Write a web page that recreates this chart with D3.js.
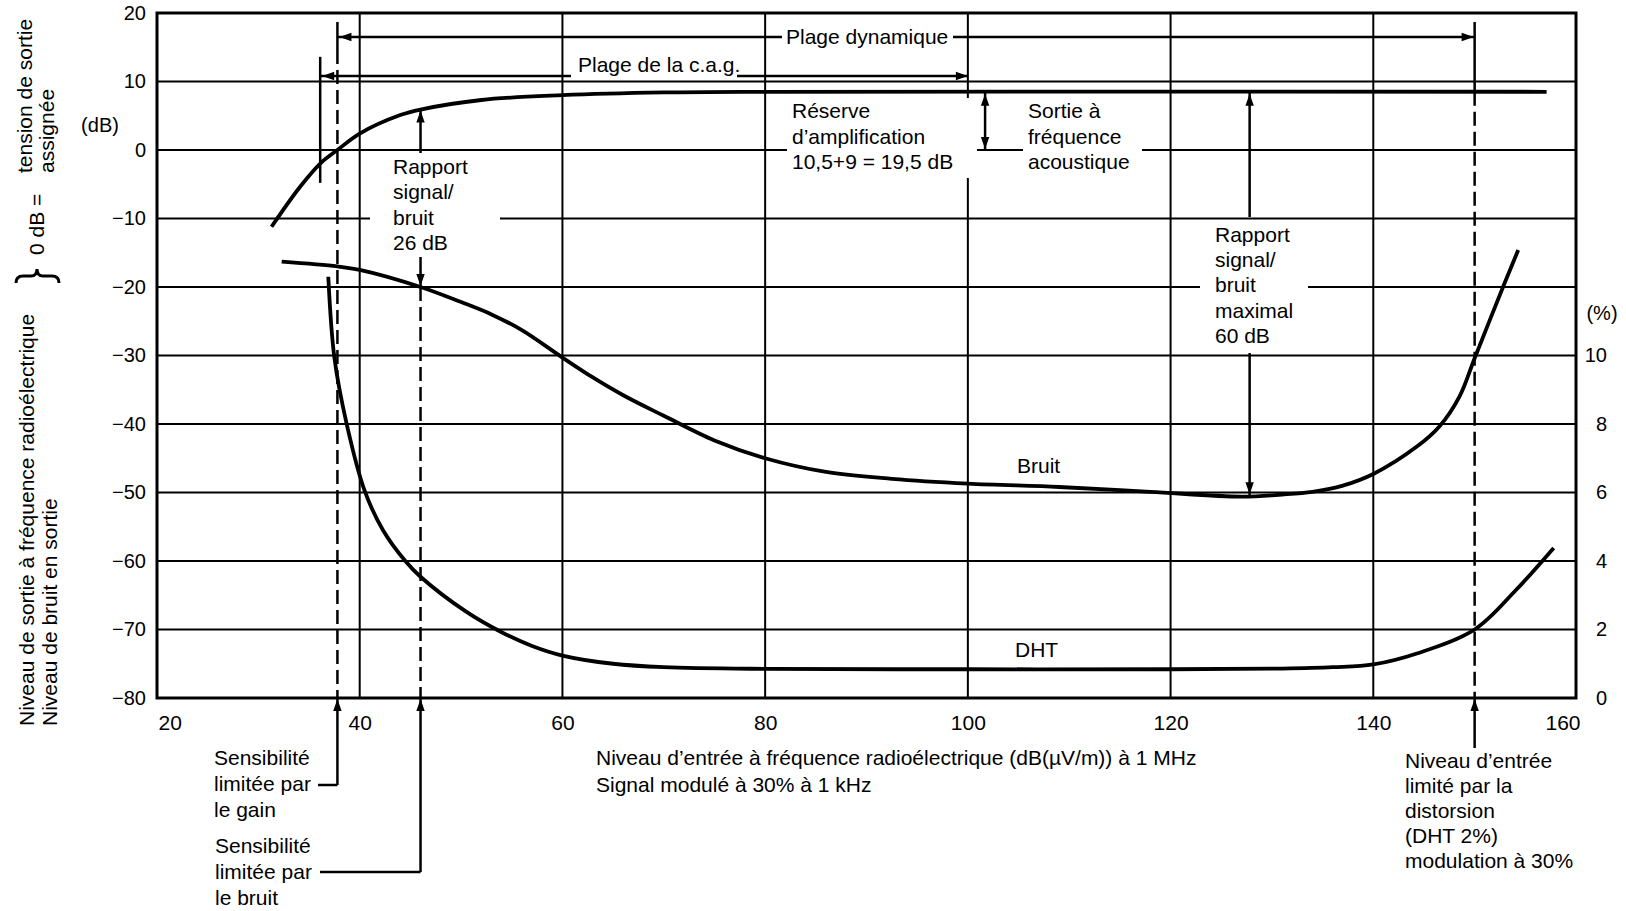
<!DOCTYPE html>
<html>
<head>
<meta charset="utf-8">
<script src="https://cdn.jsdelivr.net/npm/d3@7"></script>
<style>
  html, body { margin: 0; padding: 0; background: #fff; }
  svg { display: block; }
  text { font-family: "Liberation Sans", Arial, sans-serif; fill: #000; }
</style>
</head>
<body>
<svg id="chart" width="1626" height="911"></svg>
<script>
// ---- axis ticks ----
const xTicks = [20, 40, 60, 80, 100, 120, 140, 160];
const yTicks = [20, 10, 0, -10, -20, -30, -40, -50, -60, -70, -80];
const pctTicks = [0, 2, 4, 6, 8, 10];

// ---- RF output level (dB) versus input level ----
const outputX = [31.3, 34.1, 36.15, 37.8, 40, 44, 46, 52, 60, 70, 80, 157.1];
const outputY = [-11.2, -5.4, -1.9, 0, 2.4, 5.1, 5.9, 7.3, 8.0, 8.4, 8.5, 8.5];

// ---- output noise level (dB) ----
const noiseX = [32.3, 37.8, 40, 46, 50, 53, 56, 60, 63, 66, 70, 75, 80, 86, 92.5, 100, 109, 118, 127, 131, 134, 137, 140, 144.3, 146.5, 148.5, 150, 152.8, 154.3];
const noiseY = [-16.3, -17, -17.5, -20, -22.2, -24.0, -26.3, -30.3, -33.2, -35.8, -38.8, -42.4, -45, -47, -48, -48.7, -49.2, -49.9, -50.6, -50.3, -49.9, -49, -47.3, -43.3, -40.4, -36, -30.4, -20, -14.6];

// ---- total harmonic distortion (%) ----
const dhtX = [36.9, 37.5, 38.7, 40.5, 42.3, 44.5, 46, 50.5, 54, 57, 60, 65, 70, 80, 100, 120, 131, 136, 140, 144.3, 150, 154.1, 157.8];
const dhtPct = [12.3, 9.94, 8.02, 6.04, 4.9, 4.0, 3.54, 2.52, 1.92, 1.52, 1.24, 1.0, 0.9, 0.85, 0.84, 0.84, 0.86, 0.9, 0.98, 1.3, 2.0, 3.16, 4.38];

// ---- characteristic levels used by the dimension lines ----
const gainLimit = 37.8;      // sensitivity limited by gain
const noiseLimit = 46;       // sensitivity limited by noise
const distLimit = 150;       // input level limited by distortion (DHT 2 %)
const agcRange = [36.1, 100];
const dynRange = [gainLimit, distLimit];
const ratedOut = 8.5;        // flat AF output level
const snrAtLimit = [5.9, -20];
const reserveX = 101.7;
const snrMaxX = 127.8;
const noiseMin = -50.4;
const dynLevel = 16.5;       // height of the "Plage dynamique" line
const agcLevel = 10.8;       // height of the "Plage de la c.a.g." line

const FONT = 21;
const svg = d3.select("#chart");

const x = d3.scaleLinear().domain([20, 160]).range([157, 1576]);
const y = d3.scaleLinear().domain([-80, 20]).range([698, 13]);
const yPct = d3.scaleLinear().domain([0, 10]).range([y(-80), y(-30)]);

// ---- grid ----
const grid = svg.append("g").attr("stroke", "#000").attr("stroke-width", 2);
grid.selectAll("line.h").data(yTicks.filter(v => v > -80 && v < 20)).join("line")
  .attr("class", "h")
  .attr("x1", x(20)).attr("x2", x(160))
  .attr("y1", d => y(d)).attr("y2", d => y(d));
grid.selectAll("line.v").data(xTicks.filter(v => v > 20 && v < 160)).join("line")
  .attr("class", "v")
  .attr("x1", d => x(d)).attr("x2", d => x(d))
  .attr("y1", y(20)).attr("y2", y(-80));

// white panels behind the text blocks that sit on the grid
const panels = [
  [370, 155, 130, 101],   // Rapport signal/bruit 26 dB
  [787, 98, 190, 80],     // Réserve d'amplification
  [1023, 98, 119, 78],    // Sortie à fréquence acoustique
  [1200, 221, 108, 131],  // Rapport signal/bruit maximal
  [780, 24, 174, 27],     // Plage dynamique
  [570, 54, 168, 25]      // Plage de la c.a.g.
];
svg.append("g").selectAll("rect").data(panels).join("rect")
  .attr("x", d => d[0]).attr("y", d => d[1])
  .attr("width", d => d[2]).attr("height", d => d[3])
  .attr("fill", "#fff");

// ---- frame ----
svg.append("rect")
  .attr("x", x(20)).attr("y", y(20))
  .attr("width", x(160) - x(20)).attr("height", y(-80) - y(20))
  .attr("fill", "none").attr("stroke", "#000").attr("stroke-width", 3);

// ---- axes ----
const fmt = d => d < 0 ? "\u2212" + Math.abs(d) : String(d);
function styleAxis(g) {
  g.select(".domain").remove();
  g.attr("font-family", null).attr("font-size", null);
  g.selectAll("text").attr("font-size", 20).attr("fill", "#000");
}
svg.append("g").attr("transform", `translate(${x(20)},0)`)
  .call(d3.axisLeft(y).tickValues(yTicks).tickSize(0).tickPadding(11).tickFormat(fmt))
  .call(styleAxis);

const xAxis = svg.append("g").attr("transform", `translate(0,${y(-80)})`)
  .call(d3.axisBottom(x).tickValues(xTicks).tickSize(0).tickPadding(17).tickFormat(d => d))
  .call(styleAxis);
xAxis.selectAll(".tick text").attr("font-size", 21);
xAxis.selectAll(".tick").filter(d => d === 20).select("text").attr("text-anchor", "start").attr("x", 1);
xAxis.selectAll(".tick").filter(d => d === 160).select("text").attr("text-anchor", "end").attr("x", 4);

const rAxis = svg.append("g").attr("transform", `translate(${x(160)},0)`)
  .call(d3.axisRight(yPct).tickValues(pctTicks).tickSize(0).tickFormat(d => d))
  .call(styleAxis);
rAxis.selectAll(".tick text").attr("text-anchor", "end").attr("x", 31);

svg.append("text").attr("x", 100).attr("y", 132).attr("text-anchor", "middle").attr("font-size", 20).text("(dB)");
svg.append("text").attr("x", 1602).attr("y", 320).attr("text-anchor", "middle").attr("font-size", 20).text("(%)");

// ---- curves ----
const lineGen = d3.line().curve(d3.curveCatmullRom.alpha(0.5));
const curves = svg.append("g").attr("fill", "none").attr("stroke", "#000").attr("stroke-width", 3.8);
curves.append("path").attr("d", lineGen(outputX.map((v, i) => [x(v), y(outputY[i])])));
curves.append("path").attr("d", lineGen(noiseX.map((v, i) => [x(v), y(noiseY[i])])));
curves.append("path").attr("d", lineGen(dhtX.map((v, i) => [x(v), yPct(dhtPct[i])])));

// ---- dimension lines ----
const ann = svg.append("g").attr("stroke", "#000").attr("stroke-width", 2.5).attr("fill", "none");
const heads = svg.append("g").attr("fill", "#000");
function seg(x1, y1, x2, y2, dash) {
  const l = ann.append("line").attr("x1", x1).attr("y1", y1).attr("x2", x2).attr("y2", y2);
  if (dash) l.attr("stroke-dasharray", "14,6");
  return l;
}
function head(tx, ty, dir) {
  const L = 12, w = 4.2;
  const p = {
    up:    [[tx, ty], [tx - w, ty + L], [tx + w, ty + L]],
    down:  [[tx, ty], [tx - w, ty - L], [tx + w, ty - L]],
    left:  [[tx, ty], [tx + L, ty - w], [tx + L, ty + w]],
    right: [[tx, ty], [tx - L, ty - w], [tx - L, ty + w]]
  }[dir];
  heads.append("path").attr("d", "M" + p.join("L") + "Z");
}

// Plage dynamique
const yDyn = y(dynLevel);
seg(x(dynRange[0]), yDyn - 15, x(dynRange[0]), yDyn + 13);
seg(x(dynRange[0]), yDyn, 782, yDyn);
seg(953, yDyn, x(dynRange[1]), yDyn);
head(x(dynRange[0]) + 2, yDyn, "left");
head(x(dynRange[1]) - 1, yDyn, "right");
seg(x(dynRange[1]), yDyn - 15, x(dynRange[1]), y(ratedOut));
seg(x(dynRange[0]), yDyn + 13, x(dynRange[0]), y(-80), true);
seg(x(dynRange[1]), y(ratedOut), x(dynRange[1]), y(-80), true);

// Plage de la c.a.g.
const yAgc = y(agcLevel);
seg(x(agcRange[0]), y(13.6), x(agcRange[0]), y(-4.8));
seg(x(agcRange[0]), yAgc, 571, yAgc);
seg(737, yAgc, x(agcRange[1]), yAgc);
head(x(agcRange[0]) + 2, yAgc, "left");
head(x(agcRange[1]), yAgc, "right");

// signal-to-noise 26 dB at the noise-limited sensitivity
const xs = x(noiseLimit);
seg(xs, y(snrAtLimit[0]), xs, 153);
head(xs, y(snrAtLimit[0]) + 1, "up");
seg(xs, 257, xs, y(snrAtLimit[1]));
head(xs, y(snrAtLimit[1]) - 1, "down");
seg(xs, y(snrAtLimit[1]), xs, y(-80), true);

// gain reserve
seg(x(reserveX), y(ratedOut), x(reserveX), y(0));
head(x(reserveX), y(ratedOut) + 2, "up");
head(x(reserveX), y(0) - 1, "down");

// maximum signal-to-noise
seg(x(snrMaxX), y(ratedOut), x(snrMaxX), 217);
head(x(snrMaxX), y(ratedOut) + 2, "up");
seg(x(snrMaxX), 353, x(snrMaxX), y(noiseMin));
head(x(snrMaxX), y(noiseMin) - 1, "down");

// pointers below the axis
const yB = y(-80);
seg(x(gainLimit), yB, x(gainLimit), 785);
seg(318, 785, x(gainLimit), 785);
head(x(gainLimit), yB + 1, "up");
seg(x(noiseLimit), yB, x(noiseLimit), 872);
seg(320, 872, x(noiseLimit), 872);
head(x(noiseLimit), yB + 1, "up");
seg(x(distLimit), yB, x(distLimit), 748);
head(x(distLimit), yB + 1, "up");

// ---- text ----
function block(lines, x0, y0, step, size) {
  const t = svg.append("text").attr("font-size", size || FONT);
  lines.forEach((s, i) => t.append("tspan").attr("x", x0).attr("y", y0 + i * step).text(s));
  return t;
}
block(["Plage dynamique"], 786, yDyn + 7.5, 0);
block(["Plage de la c.a.g."], 578, 72, 0);
block(["Rapport", "signal/", "bruit", "26 dB"], 393, 174, 25.4);
block(["Réserve", "d’amplification", "10,5+9 = 19,5 dB"], 792, 118, 25.5);
block(["Sortie à", "fréquence", "acoustique"], 1028, 118, 25.5);
block(["Rapport", "signal/", "bruit", "maximal", "60 dB"], 1215, 242, 25.2);
block(["Bruit"], 1017, 473, 0);
block(["DHT"], 1015, 657, 0);

block(["Sensibilité", "limitée par", "le gain"], 214, 765, 26);
block(["Sensibilité", "limitée par", "le bruit"], 215, 853, 26);
block(["Niveau d’entrée", "limité par la", "distorsion", "(DHT 2%)", "modulation à 30%"], 1405, 768, 25);
block(["Niveau d’entrée à fréquence radioélectrique (dB(µV/m)) à 1 MHz", "Signal modulé à 30% à 1 kHz"], 596, 765, 27);

// rotated left-hand title
function vtext(s, bx, by) {
  svg.append("text").attr("transform", `translate(${bx},${by}) rotate(-90)`)
    .attr("font-size", FONT).text(s);
}
vtext("Niveau de sortie à fréquence radioélectrique", 34, 726);
vtext("Niveau de bruit en sortie", 57, 726);
vtext("0 dB =", 44, 255);
vtext("tension de sortie", 32, 173);
vtext("assignée", 54, 173);
svg.append("path")
  .attr("d", "M16,283 Q16,276 23,276 L31,276 Q37,276 37,269 Q37,276 43,276 L52,276 Q59,276 59,283")
  .attr("fill", "none").attr("stroke", "#000").attr("stroke-width", 3);
</script>
</body>
</html>
